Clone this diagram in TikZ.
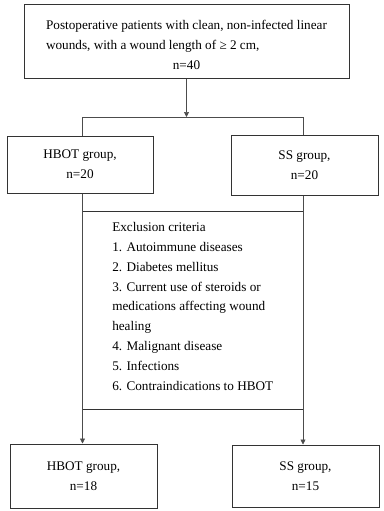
\documentclass[tikz,border=0pt]{standalone}
\usepackage{fontspec}
\setmainfont{Liberation Serif}
\usetikzlibrary{arrows.meta}

\tikzset{
  box/.style={draw=black!80, line width=1pt, inner sep=0pt, align=center,
    font=\fontsize{13.2}{19.8}\selectfont},
  link/.style={draw=black!70, line width=0.7pt}
}

\begin{document}
\begin{tikzpicture}[x=1pt, y=-1pt, >={Triangle[width=5pt,length=5pt]}]
\useasboundingbox (0,0) rectangle (383,511);
\coordinate (split) at (186.5,117){};
\coordinate (splitL) at (82.5,117){};
\coordinate (splitR) at (303,117){};
\node [box, minimum width=325pt, minimum height=73pt] (total) at (186.5,41.5)
  {\raisebox{-4pt}[\height][\depth]{\begin{tabular}{@{}l@{}}
   Postoperative patients with clean, non-infected linear\\
   wounds, with a wound length of ≥ 2 cm,\\
   \multicolumn{1}{@{}c@{}}{n=40}
   \end{tabular}}};
\node [box, minimum width=146pt, minimum height=57pt] (hbotA) at (80,164.5) {HBOT group,\\ n=20};
\node [box, minimum width=147pt, minimum height=60pt] (ssA) at (304.5,165) {SS group,\\ n=20};
\node [box, minimum width=220.5pt, minimum height=198pt] (excl) at (192.75,310)
  {\raisebox{3pt}[\height][\depth]{\begin{tabular}{@{}l@{}}
   Exclusion criteria\\ 1. Autoimmune diseases\\ 2. Diabetes mellitus\\
   3. Current use of steroids or\\ medications affecting wound\\ healing\\
   4. Malignant disease\\ 5. Infections\\ 6. Contraindications to HBOT
   \end{tabular}}};
\node [box, minimum width=147pt, minimum height=64pt] (hbotB) at (83.5,476) {HBOT group,\\ n=18};
\node [box, minimum width=147pt, minimum height=62pt] (ssB) at (305.5,476) {SS group,\\ n=15};
\draw [link, ->] (total.south) -- (split);
\draw [link] (splitL) -- (splitR);
\draw [link] (splitL) -- (splitL |- hbotA.north);
\draw [link] (splitR) -- (splitR |- ssA.north);
\draw [link, ->] (splitL |- hbotA.south) -- (splitL |- hbotB.north);
\draw [link, ->] (splitR |- ssA.south) -- (splitR |- ssB.north);
\end{tikzpicture}
\end{document}
